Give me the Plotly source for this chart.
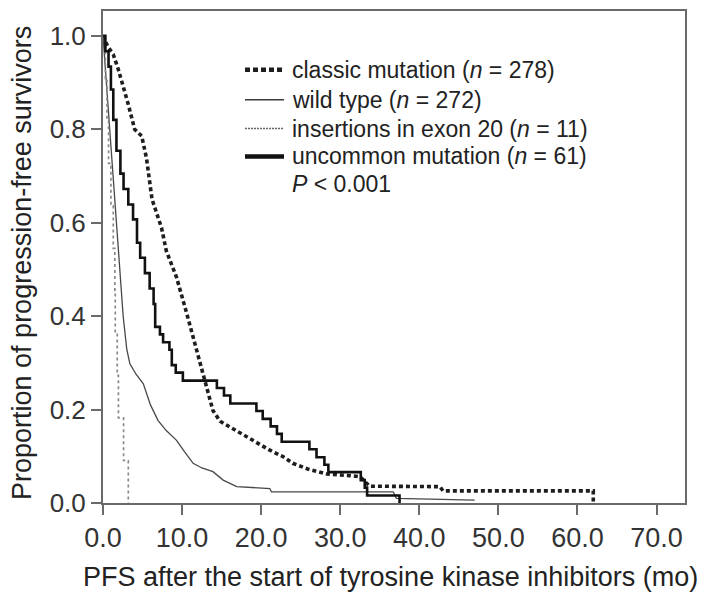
import plotly.graph_objects as go

# ---------------- data ----------------
classic_t = [0, 0.6, 1.3, 1.9, 3.2, 4.0, 4.9, 5.5, 6.2, 7.4, 8.0, 9.3, 10.6, 11.5, 12.6, 13.9,
             14.8, 16.0, 17.5, 19.0, 21.1, 22.8, 24.0, 26.0, 28.3, 31.6, 32.5, 33.3, 33.7,
             42.6, 43.0, 62.0, 62.0]
classic_s = [1.0, 0.977, 0.96, 0.93, 0.853, 0.80, 0.785, 0.738, 0.65, 0.589, 0.54, 0.483, 0.405,
             0.35, 0.284, 0.198, 0.175, 0.163, 0.148, 0.134, 0.113, 0.099, 0.085, 0.072, 0.062,
             0.058, 0.056, 0.043, 0.036, 0.035, 0.026, 0.026, 0.0]

wild_t = [0, 0.3, 0.6, 0.9, 1.2, 1.5, 1.95, 2.55, 3.0, 3.4, 4.2, 5.1, 6.0, 6.95, 8.0, 9.3,
          10.3, 11.4, 12.5, 13.9, 15.2, 16.9, 21.1, 21.3, 36.7, 37.1, 47.0]
wild_s = [1.0, 0.93, 0.85, 0.79, 0.71, 0.63, 0.54, 0.40, 0.33, 0.298, 0.275, 0.255, 0.21,
          0.177, 0.155, 0.134, 0.11, 0.085, 0.075, 0.067, 0.049, 0.035, 0.031, 0.024, 0.024,
          0.01, 0.006]

ins_t = [0, 0.3, 0.5, 0.7, 1.0, 1.3, 1.5, 1.55, 1.8, 1.95, 2.6, 3.2]
ins_s = [1.0, 0.909, 0.818, 0.727, 0.636, 0.545, 0.455, 0.364, 0.273, 0.182, 0.091, 0.0]

unc_t = [0, 0.3, 0.7, 1.0, 1.3, 1.7, 2.2, 2.6, 3.2, 3.8, 4.3, 4.7, 5.3, 5.9, 6.4, 6.6, 7.2,
         7.6, 8.4, 8.7, 9.2, 10.1, 14.4, 15.3, 16.1, 19.4, 20.2, 21.2, 22.0, 22.6, 26.1, 27.0,
         28.0, 28.5, 32.6, 33.1, 33.4, 37.5]
unc_s = [1.0, 0.967, 0.934, 0.885, 0.82, 0.754, 0.705, 0.672, 0.639, 0.607, 0.557, 0.525,
         0.492, 0.459, 0.426, 0.377, 0.361, 0.344, 0.328, 0.295, 0.279, 0.262, 0.246, 0.230,
         0.213, 0.197, 0.180, 0.164, 0.148, 0.131, 0.115, 0.098, 0.082, 0.066, 0.049, 0.033,
         0.016, 0.0]

x_ticks = [0, 10, 20, 30, 40, 50, 60, 70]
y_ticks = [0.0, 0.2, 0.4, 0.6, 0.8, 1.0]

legend_labels = ["classic mutation (<i>n</i> = 278)",
                 "wild type (<i>n</i> = 272)",
                 "insertions in exon 20 (<i>n</i> = 11)",
                 "uncommon mutation (<i>n</i> = 61)"]
p_text = "<i>P</i> < 0.001"
x_title = "PFS after the start of tyrosine kinase inhibitors (mo)"
y_title = "Proportion of progression-free survivors"

# ---------------- styles ----------------
FONT = "Liberation Sans, Arial, sans-serif"
W, H = 709, 595
L, R, T, B = 103, 24, 9, 92
PW, PH = W - L - R, H - T - B

styles = [
    dict(color="#1e1e1e", width=3.6, dash="4px,3px", shape="linear"),
    dict(color="#484848", width=1.3, dash="solid", shape="linear"),
    dict(color="#8a8a8a", width=1.7, dash="3px,3px", shape="hv"),
    dict(color="#111111", width=2.6, dash="solid", shape="hv"),
]
legend_styles = [
    dict(color="#1e1e1e", width=4.5, dash="5px,3px"),
    dict(color="#3a3a3a", width=1.5, dash="solid"),
    dict(color="#666666", width=1.5, dash="2px,1px"),
    dict(color="#111111", width=4.5, dash="solid"),
]

def px(xp):
    return (xp - L) / PW

def py(yp):
    return (H - B - yp) / PH

fig = go.Figure()
series = [(classic_t, classic_s), (wild_t, wild_s), (ins_t, ins_s), (unc_t, unc_s)]
for (t, s), st, name in zip(series, styles, legend_labels):
    fig.add_trace(go.Scatter(
        x=t, y=s, mode="lines", name=name, showlegend=False, hoverinfo="skip",
        line=dict(color=st["color"], width=st["width"], dash=st["dash"], shape=st["shape"]),
    ))

shapes = []
annotations = []
rows = [68, 98, 127, 155]
for yp, st, lab in zip(rows, legend_styles, legend_labels):
    shapes.append(dict(type="line", xref="paper", yref="paper",
                       x0=px(245), x1=px(284), y0=py(yp), y1=py(yp),
                       line=dict(color=st["color"], width=st["width"], dash=st["dash"])))
    annotations.append(dict(xref="paper", yref="paper", x=px(290), y=py(yp),
                            xanchor="left", yanchor="middle", showarrow=False, text=lab,
                            font=dict(family=FONT, size=23, color="#222")))
annotations.append(dict(xref="paper", yref="paper", x=px(290), y=py(183),
                        xanchor="left", yanchor="middle", showarrow=False, text=p_text,
                        font=dict(family=FONT, size=23, color="#222")))
annotations.append(dict(xref="paper", yref="paper", x=px(390), y=py(577),
                        xanchor="center", yanchor="middle", showarrow=False, text=x_title,
                        font=dict(family=FONT, size=27, color="#222")))
annotations.append(dict(xref="paper", yref="paper", x=px(22), y=py(262),
                        xanchor="center", yanchor="middle", showarrow=False, text=y_title,
                        textangle=-90, font=dict(family=FONT, size=27, color="#222")))

axis_common = dict(showline=True, linecolor="#6a6a6a", linewidth=2, mirror=True,
                   ticks="outside", ticklen=10, tickwidth=1.5, tickcolor="#6a6a6a",
                   showgrid=False, zeroline=False, tickformat=".1f")

fig.update_layout(
    width=W, height=H, margin=dict(l=L, r=R, t=T, b=B),
    paper_bgcolor="white", plot_bgcolor="white",
    xaxis=dict(range=[0, 73.6], tickvals=x_ticks,
               tickfont=dict(family=FONT, size=27, color="#333"), **axis_common),
    yaxis=dict(range=[0, 1.053], tickvals=y_ticks,
               tickfont=dict(family=FONT, size=26, color="#333"), **axis_common),
    shapes=shapes, annotations=annotations, showlegend=False,
)

fig.write_html("out.html")
